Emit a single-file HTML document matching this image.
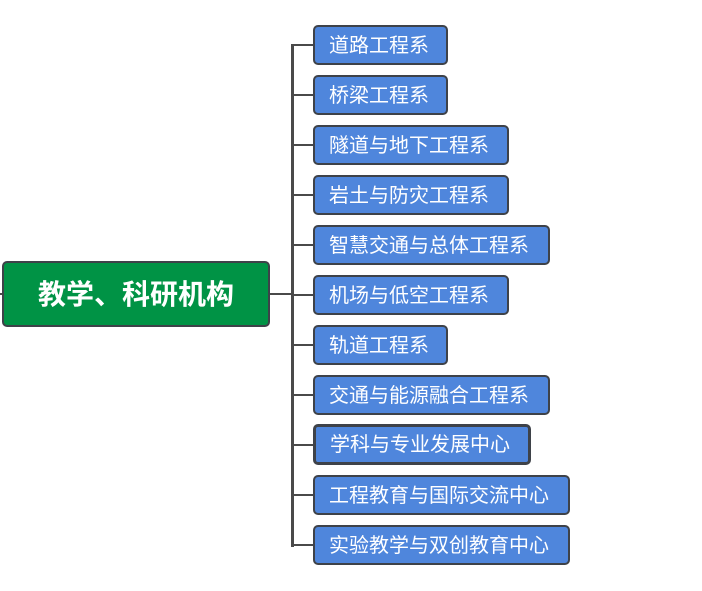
<!DOCTYPE html><html><head><meta charset="utf-8"><style>
body{margin:0;width:702px;height:591px;background:#fff;position:relative;font-family:"Liberation Sans","Noto Sans CJK SC",sans-serif;overflow:hidden}
.b{position:absolute;box-sizing:border-box;background:#4f86dc;border:2px solid #3e4249;border-radius:5px;color:#fff;font-size:20px;line-height:38px;padding-left:14px;height:40px;white-space:nowrap}
.l{position:absolute;background:#4a4a4a}
</style></head><body>
<div class="l" style="left:291px;top:44px;width:3px;height:503px"></div>
<div class="l" style="left:270px;top:293px;width:22px;height:2px"></div>
<div class="l" style="left:0;top:293px;width:3px;height:2px"></div>
<div style="position:absolute;left:2px;top:261px;width:268px;height:66px;box-sizing:border-box;background:#009345;border:2px solid #3e4249;border-radius:5px;color:#fff;font-weight:bold;font-size:28px;line-height:64px;text-align:center">教学、科研机构</div>
<div class="l" style="left:292px;top:44px;width:22px;height:2px"></div><div class="b" style="left:313px;top:25px;width:135px">道路工程系</div>
<div class="l" style="left:292px;top:94px;width:22px;height:2px"></div><div class="b" style="left:313px;top:75px;width:135px">桥梁工程系</div>
<div class="l" style="left:292px;top:144px;width:22px;height:2px"></div><div class="b" style="left:313px;top:125px;width:196px">隧道与地下工程系</div>
<div class="l" style="left:292px;top:194px;width:22px;height:2px"></div><div class="b" style="left:313px;top:175px;width:196px">岩土与防灾工程系</div>
<div class="l" style="left:292px;top:244px;width:22px;height:2px"></div><div class="b" style="left:313px;top:225px;width:237px">智慧交通与总体工程系</div>
<div class="l" style="left:292px;top:294px;width:22px;height:2px"></div><div class="b" style="left:313px;top:275px;width:196px">机场与低空工程系</div>
<div class="l" style="left:292px;top:344px;width:22px;height:2px"></div><div class="b" style="left:313px;top:325px;width:135px">轨道工程系</div>
<div class="l" style="left:292px;top:394px;width:22px;height:2px"></div><div class="b" style="left:313px;top:375px;width:237px">交通与能源融合工程系</div>
<div class="l" style="left:292px;top:444px;width:22px;height:2px"></div><div class="b" style="left:313px;top:424px;width:218px;height:41px;border-width:3px;line-height:37px">学科与专业发展中心</div>
<div class="l" style="left:292px;top:494px;width:22px;height:2px"></div><div class="b" style="left:313px;top:475px;width:257px">工程教育与国际交流中心</div>
<div class="l" style="left:292px;top:544px;width:22px;height:2px"></div><div class="b" style="left:313px;top:525px;width:257px">实验教学与双创教育中心</div>
</body></html>
